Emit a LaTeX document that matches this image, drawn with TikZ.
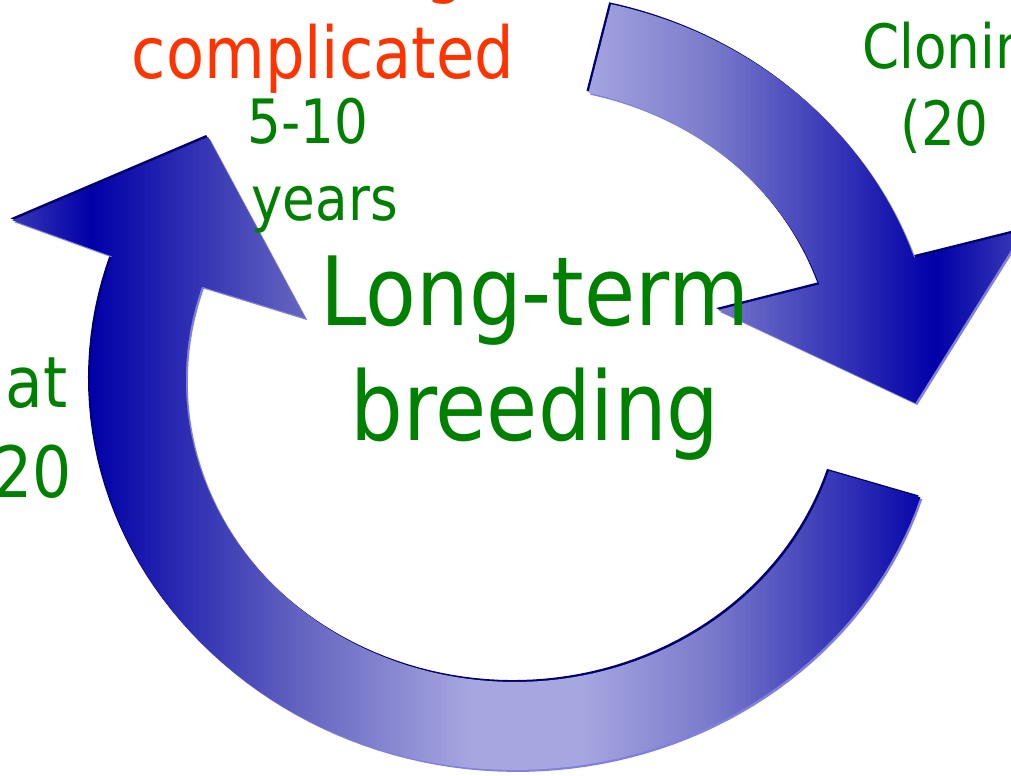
\documentclass[tikz,border=0pt]{standalone}
\usepackage{fontspec}
\setmainfont{DejaVu Sans}[FakeStretch=0.87]
\definecolor{leafgreen}{RGB}{0,128,0}
\definecolor{alertred}{RGB}{255,51,0}
\definecolor{ringnavy}{RGB}{0,0,110}
\definecolor{ringrim}{RGB}{128,128,224}
\definecolor{shadeedge}{RGB}{64,64,184}
\definecolor{shadedeep}{RGB}{0,0,168}
\definecolor{shademid}{RGB}{100,100,192}
\definecolor{shadepale}{RGB}{166,166,225}
\definecolor{shadesoft}{RGB}{122,122,203}
\pgfdeclarehorizontalshading{ringshade}{100bp}{color(0bp)=(shadeedge); color(25bp)=(shadeedge); color(29.4bp)=(shadedeep); color(39.6bp)=(shademid); color(47.8bp)=(shadepale); color(53.2bp)=(shadepale); color(59.5bp)=(shadesoft); color(70.4bp)=(shadedeep); color(75bp)=(shadeedge); color(100bp)=(shadeedge)}
\newcommand{\lowloop}{plot[domain=342.5:161.5,samples=90] (\x:390) -- (160.9:488) -- (139.2:372) -- (162.2:202) -- plot[domain=162:342.5,samples=90] (\x:302) -- cycle}
\newcommand{\topbend}{plot[domain=76.8:18.5,samples=60] (\x:386) -- (17.8:490) -- (-3.6:368) -- (20.6:199) -- (18.9:295) -- plot[domain=18.9:76.8,samples=60] (\x:295) -- cycle}

\begin{document}
\begin{tikzpicture}[x=0.02cm,y=-0.02cm,lbl/.style={text=leafgreen, inner sep=0pt, anchor=base},huge/.style={lbl, font=\fontsize{54.4}{65}\selectfont},mid/.style={lbl, font=\fontsize{34.8}{42}\selectfont},side/.style={lbl, font=\fontsize{40.3}{48}\selectfont},alert/.style={lbl, text=alertred, font=\fontsize{40.8}{49}\selectfont}]
\useasboundingbox (0,0) rectangle (1011,775);
\begin{scope}[shift={(515,380)}, x=0.0218cm, y=0.02cm]
\fill[ringnavy, xshift=-1.1pt, yshift=1.1pt] \lowloop; \fill[ringnavy, xshift=-1.1pt, yshift=1.1pt] \topbend;
\fill[ringrim, xshift=1.1pt, yshift=-1.1pt] \lowloop; \fill[ringrim, xshift=1.1pt, yshift=-1.1pt] \topbend;
\begin{scope}
\clip \lowloop \topbend;
\shade[shading=ringshade] (-472.5,-420) rectangle (472.5,390);
\end{scope}
\end{scope}
\node[alert, anchor=base west] (cutg) at (425,-11) {g};
\node[alert] (complicated) at (323,78) {complicated};
\node[mid, anchor=base west] (span) at (247,143) {5-10}; \node[mid, anchor=base west] (years) at (251,220) {years};
\node[huge] (longterm) at (535,325) {Long-term}; \node[huge] (breeding) at (535,440) {breeding};
\node[mid, anchor=base west] (cloning) at (862,68) {Cloning}; \node[mid, anchor=base west] (cloneyrs) at (900,145) {(20};
\node[side, anchor=base east] (at) at (68,407) {at}; \node[side, anchor=base east] (leftyrs) at (72,497) {20};
\end{tikzpicture}
\end{document}
